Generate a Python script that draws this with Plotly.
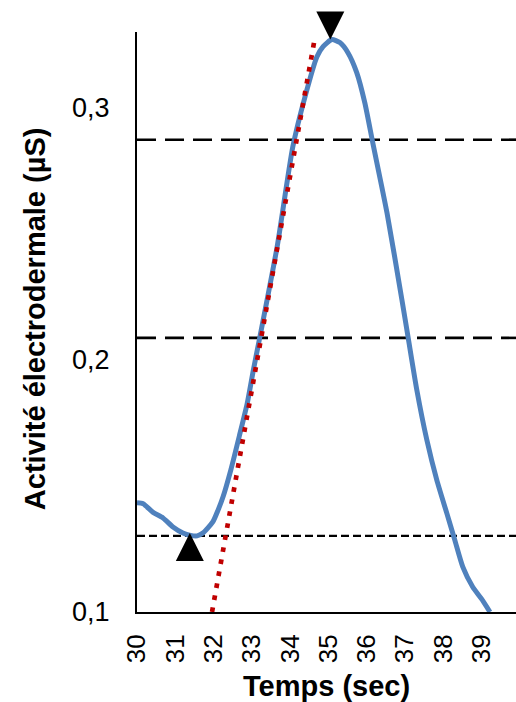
import plotly.graph_objects as go

# Electrodermal activity trace (seconds, µS)
time_s = [30.0, 30.16, 30.42, 30.68, 30.94, 31.2, 31.4, 31.57, 31.72, 31.98, 32.12, 32.25,
          32.45, 32.67, 32.88, 33.04, 33.21, 33.66, 34.07, 34.39, 34.7, 34.86, 35.09, 35.3,
          35.51, 35.74, 35.95, 36.16, 36.53, 36.92, 37.08, 37.31, 37.57, 37.83, 38.09, 38.3,
          38.51, 38.77, 39.0, 39.22]
eda_us = [0.1433, 0.1429, 0.1395, 0.1373, 0.1337, 0.1313, 0.1304, 0.1302, 0.1313, 0.1357, 0.1405, 0.1458,
          0.1563, 0.1696, 0.1828, 0.196, 0.2091, 0.2448, 0.2845, 0.3044, 0.3202, 0.3242, 0.327, 0.3258,
          0.3218, 0.3139, 0.302, 0.286, 0.2583, 0.2238, 0.2091, 0.188, 0.1683, 0.1524, 0.1393, 0.1286,
          0.1179, 0.1099, 0.1052, 0.1]

# Tangent (slope) line
tangent_time = [31.96, 34.65]
tangent_value = [0.1, 0.328]

# Onset (minimum) and peak markers
onset_time = [31.38]
onset_value = [0.1313]
peak_time = [35.05]
peak_value = [0.327]

# Threshold levels (baseline, 40 %, 80 % of amplitude)
short_dash_levels = [0.1302]
long_dash_levels = [0.2087, 0.2873]

x_ticks = [30, 31, 32, 33, 34, 35, 36, 37, 38, 39]
y_ticks = [0.1, 0.2, 0.3]
y_tick_text = ["0,1", "0,2", "0,3"]
x_title = "Temps (sec)"
y_title = "Activité électrodermale (µS)"

FONT = "Liberation Sans, Arial, sans-serif"

fig = go.Figure()

fig.add_trace(go.Scatter(
    x=time_s, y=eda_us, mode="lines",
    line=dict(color="#4F81BD", width=5, shape="spline", smoothing=0.6),
    hoverinfo="skip", showlegend=False,
))
fig.add_trace(go.Scatter(
    x=tangent_time, y=tangent_value, mode="lines",
    line=dict(color="#C00000", width=4.7, dash="4.7px,7.5px"),
    hoverinfo="skip", showlegend=False,
))
fig.add_trace(go.Scatter(
    x=onset_time, y=onset_value, mode="markers",
    marker=dict(symbol="arrow-up", size=28, color="black", line=dict(width=0)),
    cliponaxis=False, showlegend=False,
))
fig.add_trace(go.Scatter(
    x=peak_time, y=peak_value, mode="markers",
    marker=dict(symbol="arrow-down", size=28, color="black", line=dict(width=0)),
    cliponaxis=False, showlegend=False,
))

shapes = []
for lv in long_dash_levels:
    shapes.append(dict(type="line", xref="paper", x0=0, x1=1, yref="y", y0=lv, y1=lv,
                       line=dict(color="black", width=2.6, dash="19px,9px"), layer="below"))
for lv in short_dash_levels:
    shapes.append(dict(type="line", xref="paper", x0=0, x1=1, yref="y", y0=lv, y1=lv,
                       line=dict(color="black", width=2.2, dash="8px,4px"), layer="below"))

annotations = [
    dict(text="<b>%s</b>" % x_title, xref="paper", yref="paper", x=0.5, y=-0.128,
         xanchor="center", yanchor="middle", showarrow=False,
         font=dict(size=29, family=FONT, color="black")),
    dict(text="<b>%s</b>" % y_title, xref="paper", yref="paper", x=-0.269, y=0.505,
         xanchor="center", yanchor="middle", textangle=-90, showarrow=False,
         font=dict(size=29, family=FONT, color="black")),
]

fig.update_layout(
    width=516, height=702,
    margin=dict(l=137, r=0, t=32, b=90),
    paper_bgcolor="white", plot_bgcolor="white",
    font=dict(family=FONT, color="black"),
    shapes=shapes,
    annotations=annotations,
    xaxis=dict(
        range=[30, 39.9], tickvals=x_ticks, tickangle=-90,
        showgrid=False, zeroline=False, showline=True, linecolor="black", linewidth=2,
        ticks="", ticklabelstandoff=10, automargin=False,
        tickfont=dict(size=26, family=FONT, color="black"),
    ),
    yaxis=dict(
        range=[0.1, 0.33], tickvals=y_ticks, ticktext=y_tick_text,
        showgrid=False, zeroline=False, showline=True, linecolor="black", linewidth=2,
        ticks="", ticklabelstandoff=20, automargin=False,
        tickfont=dict(size=27, family=FONT, color="black"),
    ),
)

fig.write_html(
    "out.html",
    config={"displayModeBar": False},
    post_script="document.body.style.margin='0';document.body.style.overflow='hidden';",
)
